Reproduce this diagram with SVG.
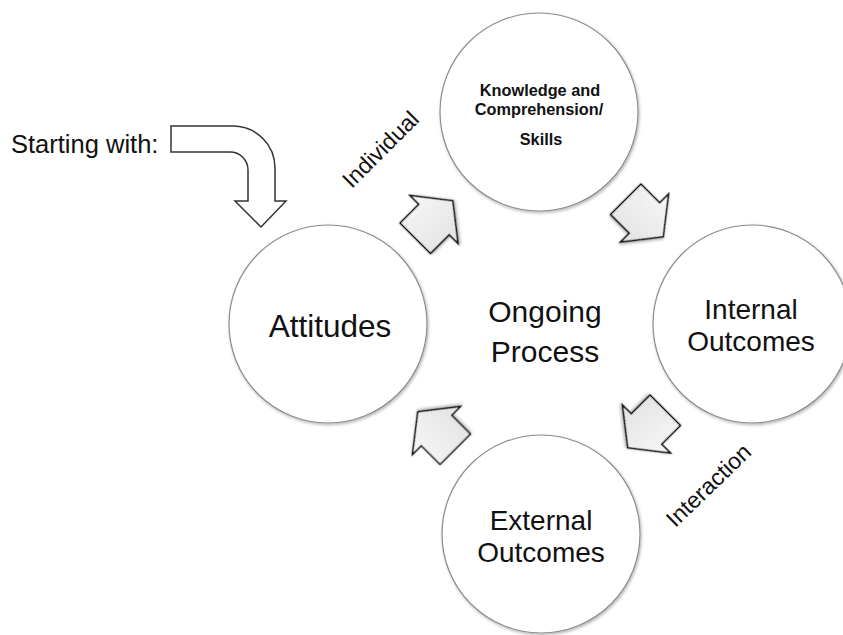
<svg xmlns="http://www.w3.org/2000/svg" width="843" height="635" viewBox="0 0 843 635">
  <style>
    .circle { fill: #ffffff; stroke: #8c8c8c; stroke-width: 1.2; filter: url(#shadow); }
    .label { font-family: "Liberation Sans", Arial, sans-serif; fill: #111111; text-anchor: middle; }
    .big { font-size: 30px; }
    .mid { font-size: 28px; }
    .small { font-size: 16.3px; font-weight: bold; }
    .side { font-size: 23px; }
    .blk { fill: url(#grad); stroke: #111111; stroke-width: 1.5; stroke-linejoin: miter; filter: url(#shadow); }
    .bent { fill: #ffffff; stroke: #333333; stroke-width: 1.5; }
  </style>
  <defs>
    <filter id="shadow" x="-20%" y="-20%" width="140%" height="140%">
      <feDropShadow dx="1" dy="1.5" stdDeviation="1.5" flood-color="#000000" flood-opacity="0.3"/>
    </filter>
    <linearGradient id="grad" x1="0" y1="0" x2="0" y2="1">
      <stop offset="0" stop-color="#f7f7f7"/>
      <stop offset="1" stop-color="#e2e2e2"/>
    </linearGradient>
    <path id="blockArrow" d="M26.5,0 L0,34 L0,21.5 L-26.5,21.5 L-26.5,-21.5 L0,-21.5 L0,-34 Z"/>
  </defs>
  <rect width="843" height="635" fill="#ffffff"/>

  <g id="node-knowledge">
    <circle class="circle" cx="539" cy="112" r="99"/>
    <text class="label small" x="540" y="96">Knowledge and</text>
    <text class="label small" x="539" y="114.5">Comprehension/</text>
    <text class="label small" x="541" y="145">Skills</text>
  </g>
  <g id="node-attitudes">
    <circle class="circle" cx="328" cy="324" r="99"/>
    <text class="label" style="font-size:31.5px" x="330" y="337">Attitudes</text>
  </g>
  <g id="node-internal">
    <circle class="circle" cx="752" cy="324" r="99"/>
    <text class="label mid" x="751" y="319">Internal</text>
    <text class="label mid" x="751" y="351">Outcomes</text>
  </g>
  <g id="node-external">
    <circle class="circle" cx="541" cy="534" r="99"/>
    <text class="label mid" x="541" y="530">External</text>
    <text class="label mid" x="541" y="562">Outcomes</text>
  </g>
  <g id="node-center">
    <text class="label big" x="545" y="322">Ongoing</text>
    <text class="label big" x="545" y="362">Process</text>
  </g>
  <g id="node-start">
    <text class="label" style="text-anchor:start;font-size:25.5px" x="11" y="153">Starting with:</text>
  </g>

  <g id="connectors">
    <path class="bent" d="M171,126 L233,126 A42,42 0 0 1 275,168 L275,201 L286,201 L261,227 L235,201 L248,201 L248,170 A18,18 0 0 0 230,152 L171,152 Z"/>
    <use href="#blockArrow" class="blk" transform="translate(434,219.5) rotate(-45)"/>
    <use href="#blockArrow" class="blk" transform="translate(644.5,218) rotate(45)"/>
    <use href="#blockArrow" class="blk" transform="translate(646.5,429) rotate(135)"/>
    <use href="#blockArrow" class="blk" transform="translate(436.5,430.5) rotate(-135)"/>
    <text class="label side" transform="translate(386,155) rotate(-45)">Individual</text>
    <text class="label side" transform="translate(714,491) rotate(-44)">Interaction</text>
  </g>
</svg>
